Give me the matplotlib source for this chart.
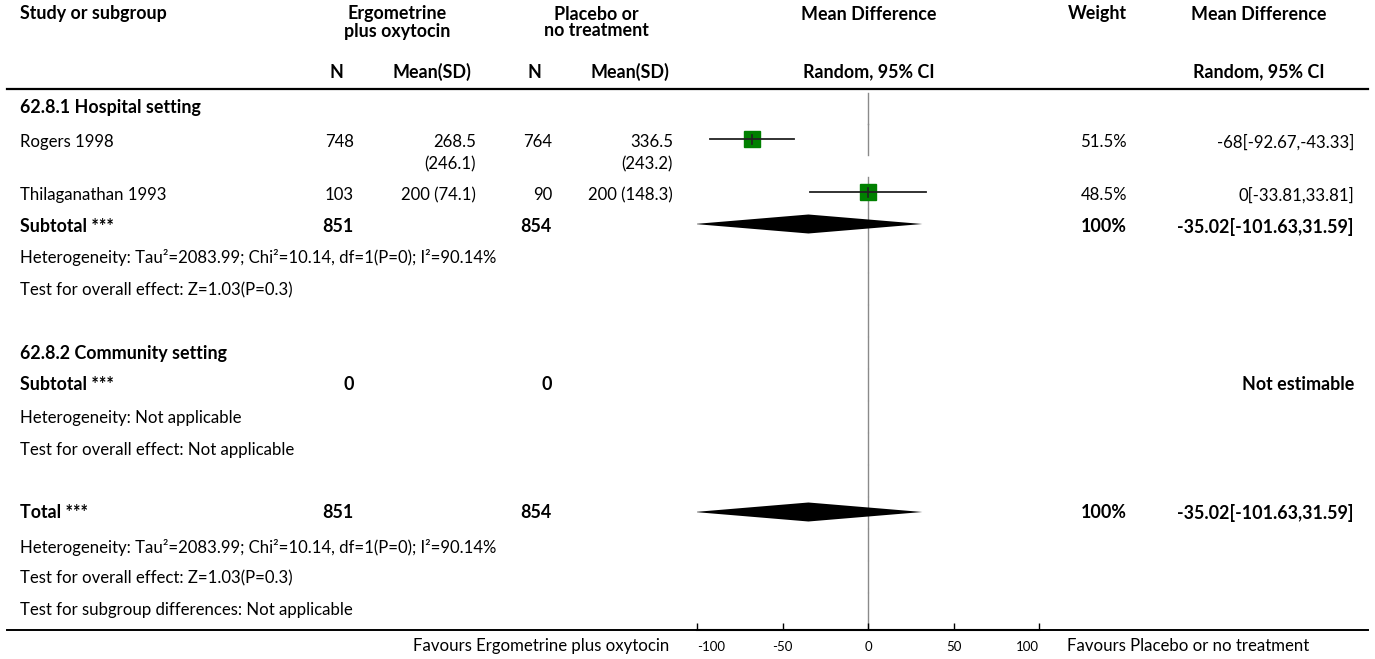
import matplotlib
matplotlib.use("Agg")
import matplotlib.pyplot as plt

plt.rcParams['font.family'] = ['Lato', 'DejaVu Sans']

# data
studies = ["Rogers 1998", "Thilaganathan 1993"]
n_ergo = [748, 103]
mean_ergo = [268.5, 200]
sd_ergo = [246.1, 74.1]
n_plac = [764, 90]
mean_plac = [336.5, 200]
sd_plac = [243.2, 148.3]
weights = [51.5, 48.5]
md = [-68, 0]
md_lo = [-92.67, -33.81]
md_hi = [-43.33, 33.81]

sub_n_ergo = 851
sub_n_plac = 854
sub_md = -35.02
sub_lo = -101.63
sub_hi = 31.59
het_text = "Heterogeneity: Tau\u00b2=2083.99; Chi\u00b2=10.14, df=1(P=0); I\u00b2=90.14%"
effect_text = "Test for overall effect: Z=1.03(P=0.3)"

ticks = [-100, -50, 0, 50, 100]

W, H = 1375, 659
FS = 12.1     # regular text
FSB = 12.9    # bold text

# column anchors (pixels)
X_LEFT = 20
X_N1, X_M1, X_N2, X_M2 = 354, 476, 552, 673
X_WT = 1127
X_CI = 1354

fig = plt.figure(figsize=(W / 100, H / 100), dpi=100)
bg = fig.add_axes([0, 0, 1, 1])
bg.set_xlim(0, W)
bg.set_ylim(H, 0)
bg.axis('off')

# forest axes: -100..100 spans pixels 697..1039, y in pixel rows
x0, x1, ybot = 697.3, 1039.3, 630
ax = fig.add_axes([x0 / W, (H - ybot) / H, (x1 - x0) / W, ybot / H])
ax.set_xlim(-100, 100)
ax.set_ylim(ybot, 0)
ax.patch.set_alpha(0)
for s in ['top', 'left', 'right']:
    ax.spines[s].set_visible(False)
ax.spines['bottom'].set_linewidth(1.5)
ax.set_yticks([])
ax.set_xticks(ticks)
ax.set_xticklabels([str(t) for t in ticks])
ax.tick_params(axis='x', direction='in', length=5, width=1, labelsize=9.5, pad=8)
tl = ax.get_xticklabels()
tl[0].set_ha('left')
tl[-1].set_ha('right')


def txt(x, y, s, ha='left', bold=False, **kw):
    bg.text(x, y, s, ha=ha, va='center', fontsize=FSB if bold else FS,
            fontweight='bold' if bold else 'normal', **kw)


# headers
txt(X_LEFT, 14, "Study or subgroup", bold=True)
txt(397, 14, "Ergometrine", ha='center', bold=True)
txt(397, 31, "plus oxytocin", ha='center', bold=True)
txt(596, 14, "Placebo or", ha='center', bold=True)
txt(596, 31, "no treatment", ha='center', bold=True)
txt(869, 14, "Mean Difference", ha='center', bold=True)
txt(X_WT, 14, "Weight", ha='right', bold=True)
txt(1259, 14, "Mean Difference", ha='center', bold=True)
txt(343, 72, "N", ha='right', bold=True)
txt(471, 72, "Mean(SD)", ha='right', bold=True)
txt(541, 72, "N", ha='right', bold=True)
txt(669, 72, "Mean(SD)", ha='right', bold=True)
txt(869, 72, "Random, 95% CI", ha='center', bold=True)
txt(1259, 72, "Random, 95% CI", ha='center', bold=True)

bg.plot([7, 1368], [89, 89], color='black', lw=1.6)
bg.plot([7, 1368], [ybot, ybot], color='black', lw=1.4)

# zero line, drawn row by row (rows are 32 px tall, small gaps between)
row_centres = [108, 139, 192, 224, 256, 288, 320, 352, 384, 416, 448, 480, 512, 544, 576, 608]
for c in row_centres:
    top = max(c - 15.5, 92)
    bot = ybot if c == row_centres[-1] else c + 15.5
    ax.plot([0, 0], [top, bot], color='#8a8a8a', lw=1, zorder=1)

# subgroup 1
txt(X_LEFT, 108, "62.8.1 Hospital setting", bold=True)
rows = [139, 192]
for i, name in enumerate(studies):
    y = rows[i]
    txt(X_LEFT, y + 3, name)
    txt(X_N1, y + 3, str(n_ergo[i]), ha='right')
    txt(X_N2, y + 3, str(n_plac[i]), ha='right')
    for xr, m, sd in [(X_M1, mean_ergo[i], sd_ergo[i]), (X_M2, mean_plac[i], sd_plac[i])]:
        s = f"{m:g} ({sd:g})"
        lines = s.split(" ") if len(s) > 11 else [s]
        for k, ln in enumerate(lines):
            txt(xr, y + 3 + 22 * k, ln, ha='right')
    txt(X_WT, y + 3, f"{weights[i]}%", ha='right')
    txt(X_CI, y + 3, f"{md[i]:g}[{md_lo[i]},{md_hi[i]}]", ha='right')
    ax.plot([md_lo[i], md_hi[i]], [y, y], color='#222222', lw=1.3, zorder=3)
    ax.plot([md[i]], [y], marker='s', color='#008000', linestyle='none',
            markersize=2.3 * weights[i] ** 0.5 * 0.72, zorder=2)
    ax.plot([md[i], md[i]], [y - 4.5, y + 4.5], color='#222222', lw=1.2, zorder=4)


def diamond(y, m, lo, hi):
    ax.fill([lo, m, hi, m], [y, y - 9.5, y, y + 9.5], color='black', lw=0, zorder=3)


ys = 224
txt(X_LEFT, ys + 3, "Subtotal ***", bold=True)
txt(X_N1, ys + 3, str(sub_n_ergo), ha='right', bold=True)
txt(X_N2, ys + 3, str(sub_n_plac), ha='right', bold=True)
txt(X_WT, ys + 3, "100%", ha='right', bold=True)
txt(X_CI, ys + 3, f"{sub_md}[{sub_lo},{sub_hi}]", ha='right', bold=True)
diamond(ys, sub_md, sub_lo, sub_hi)
txt(X_LEFT, 258, het_text)
txt(X_LEFT, 290, effect_text)

# subgroup 2
txt(X_LEFT, 354, "62.8.2 Community setting", bold=True)
txt(X_LEFT, 385, "Subtotal ***", bold=True)
txt(X_N1, 385, "0", ha='right', bold=True)
txt(X_N2, 385, "0", ha='right', bold=True)
txt(X_CI, 385, "Not estimable", ha='right', bold=True)
txt(X_LEFT, 418, "Heterogeneity: Not applicable")
txt(X_LEFT, 450, "Test for overall effect: Not applicable")

# total
yt = 512
txt(X_LEFT, yt + 1, "Total ***", bold=True)
txt(X_N1, yt + 1, str(sub_n_ergo), ha='right', bold=True)
txt(X_N2, yt + 1, str(sub_n_plac), ha='right', bold=True)
txt(X_WT, yt + 1, "100%", ha='right', bold=True)
txt(X_CI, yt + 1, f"{sub_md}[{sub_lo},{sub_hi}]", ha='right', bold=True)
diamond(yt, sub_md, sub_lo, sub_hi)
txt(X_LEFT, 547, het_text)
txt(X_LEFT, 578, effect_text)
txt(X_LEFT, 610, "Test for subgroup differences: Not applicable")

txt(669, 646, "Favours Ergometrine plus oxytocin", ha='right')
txt(1067, 646, "Favours Placebo or no treatment")

fig.savefig("out.png", dpi=100)
